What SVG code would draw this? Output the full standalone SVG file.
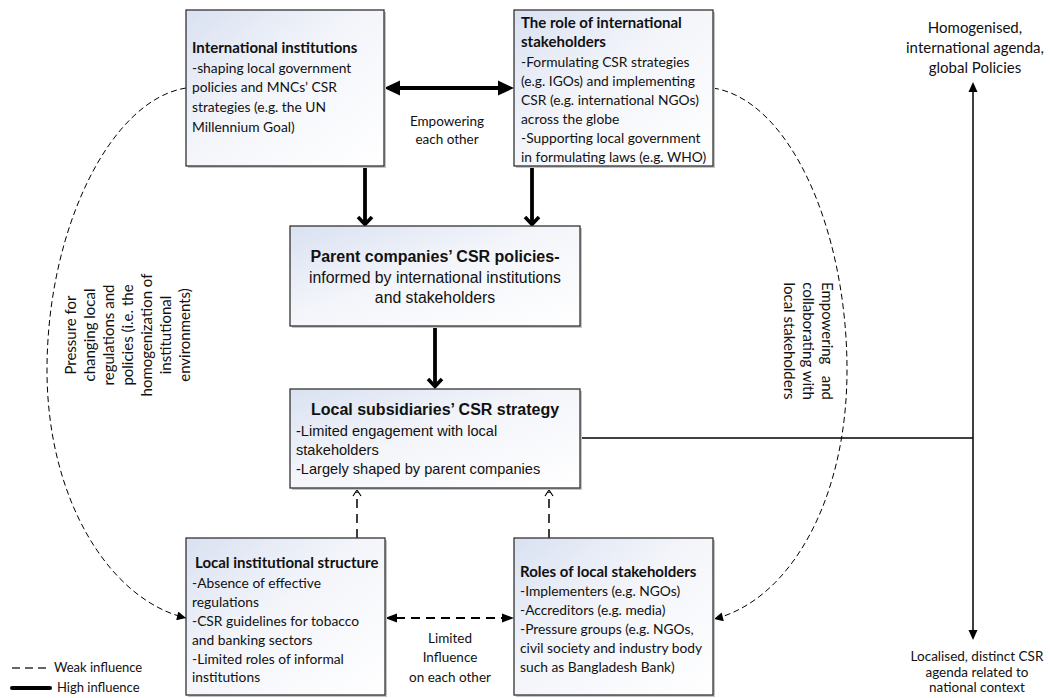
<svg xmlns="http://www.w3.org/2000/svg" width="1050" height="698" viewBox="0 0 1050 698">
<defs>
<linearGradient id="bg" x1="0" y1="0" x2="1" y2="1">
<stop offset="0" stop-color="#d9e1f1"/>
<stop offset="0.45" stop-color="#f3f5fa"/>
<stop offset="1" stop-color="#ffffff"/>
</linearGradient>
<marker id="tri" viewBox="0 0 10 10" refX="10" refY="5" markerWidth="11" markerHeight="9" markerUnits="userSpaceOnUse" orient="auto">
<path d="M0,0 L10,5 L0,10 z" fill="#000"/>
</marker>
<style>
.box{fill:url(#bg);stroke:#333;stroke-width:1.3}
.shadow{fill:#c4c4c4}
.cal{font-family:Lato,"Noto Sans",sans-serif;font-size:13.8px;fill:#111}
.calb{font-family:Lato,"Noto Sans",sans-serif;font-size:15px;font-weight:bold;fill:#111}
.ari{font-family:"Liberation Sans",Arial,sans-serif;font-size:14.6px;fill:#111}
.arib{font-family:"Liberation Sans",Arial,sans-serif;font-size:16px;font-weight:bold;fill:#111}
.lab{font-family:Lato,"Noto Sans",sans-serif;font-size:13.5px;fill:#111}
.lab15{font-family:Lato,"Noto Sans",sans-serif;font-size:15px;fill:#111}
.thick{stroke:#000;stroke-width:3.8;fill:none}
.chev{stroke:#000;stroke-width:3.5;fill:none;stroke-linejoin:miter}
.dash{stroke:#000;stroke-width:1.5;fill:none;stroke-dasharray:9 6}
.curve{stroke:#000;stroke-width:1;fill:none;stroke-dasharray:6 3.5}
.thin{stroke:#000;stroke-width:1.5;fill:none}
</style>
</defs>
<rect width="1050" height="698" fill="#fff"/>

<g id="connectors">
<line class="thick" x1="398" y1="88" x2="500" y2="88"/>
<polygon points="384,88 400,80.5 400,95.5" fill="#000"/>
<polygon points="514,88 498,80.5 498,95.5" fill="#000"/>
<line class="thick" x1="365" y1="166" x2="365" y2="224"/>
<polyline class="chev" points="358,217 365,224.5 372,217"/>
<line class="thick" x1="532" y1="166" x2="532" y2="224"/>
<polyline class="chev" points="525,217 532,224.5 539,217"/>
<line class="thick" x1="435" y1="326" x2="435" y2="387"/>
<polyline class="chev" points="428,379 435,386.5 442,379"/>
<line class="dash" x1="357" y1="538" x2="357" y2="492"/>
<polyline points="353,496 357,490 361,496" stroke="#000" stroke-width="1.2" fill="none"/>
<line class="dash" x1="549" y1="538" x2="549" y2="492"/>
<polyline points="545,496 549,490 553,496" stroke="#000" stroke-width="1.2" fill="none"/>
<line x1="396" y1="618" x2="503" y2="618" stroke="#000" stroke-width="1.8" stroke-dasharray="9 6"/>
<polygon points="385,618 397,613.5 397,622.5" fill="#000"/>
<polygon points="514,618 502,613.5 502,622.5" fill="#000"/>
<path class="curve" d="M186,88 C110,100 47,230 47,370 C47,500 110,600 186,618" marker-end="url(#tri)"/>
<path class="curve" d="M713,88 C790,100 847,230 847,370 C847,500 790,600 714,619" marker-end="url(#tri)"/>
<line class="thin" x1="580" y1="438" x2="973" y2="438"/>
<line class="thin" x1="973" y1="90" x2="973" y2="632"/>
<polygon points="973,82 968.5,92 977.5,92" fill="#000"/>
<polygon points="973,640 968.5,630 977.5,630" fill="#000"/>
</g>

<g id="node-international-institutions">
<rect class="shadow" x="188" y="12" width="198" height="156"/>
<rect class="box" x="186" y="10" width="198" height="156"/>
<text class="calb" x="192" y="53">International institutions</text>
<text class="cal" x="192" y="73">-shaping local government</text>
<text class="cal" x="192" y="92">policies and MNCs’ CSR</text>
<text class="cal" x="192" y="112">strategies (e.g. the UN</text>
<text class="cal" x="192" y="132">Millennium Goal)</text>
</g>

<g id="node-international-stakeholders">
<rect class="shadow" x="516" y="12" width="199" height="156"/>
<rect class="box" x="514" y="10" width="199" height="156"/>
<text class="calb" x="521" y="28">The role of international</text>
<text class="calb" x="521" y="47">stakeholders</text>
<text class="cal" x="521" y="67">-Formulating CSR strategies</text>
<text class="cal" x="521" y="86">(e.g. IGOs) and implementing</text>
<text class="cal" x="521" y="105">CSR (e.g. international NGOs)</text>
<text class="cal" x="521" y="124">across the globe</text>
<text class="cal" x="521" y="143">-Supporting local government</text>
<text class="cal" x="521" y="162">in formulating laws (e.g. WHO)</text>
</g>

<g id="node-parent-companies">
<rect class="shadow" x="292" y="228" width="290" height="100"/>
<rect class="box" x="290" y="226" width="290" height="100"/>
<text class="arib" x="435" y="262" text-anchor="middle">Parent companies’ CSR policies-</text>
<text class="ari" x="435" y="283" text-anchor="middle" style="font-size:15.8px">informed by international institutions</text>
<text class="ari" x="435" y="303" text-anchor="middle" style="font-size:15.8px">and stakeholders</text>
</g>

<g id="node-local-subsidiaries">
<rect class="shadow" x="292" y="391" width="290" height="99"/>
<rect class="box" x="290" y="389" width="290" height="99"/>
<text class="arib" x="435" y="415" text-anchor="middle">Local subsidiaries’ CSR strategy</text>
<text class="ari" x="296" y="436">-Limited engagement with local</text>
<text class="ari" x="296" y="455">stakeholders</text>
<text class="ari" x="296" y="474">-Largely shaped by parent companies</text>
</g>

<g id="node-local-institutional-structure">
<rect class="shadow" x="188" y="540" width="199" height="157"/>
<rect class="box" x="186" y="538" width="199" height="157"/>
<text class="calb" x="195" y="568">Local institutional structure</text>
<text class="cal" x="192" y="588">-Absence of effective</text>
<text class="cal" x="192" y="607">regulations</text>
<text class="cal" x="192" y="626">-CSR guidelines for tobacco</text>
<text class="cal" x="192" y="645">and banking sectors</text>
<text class="cal" x="192" y="664">-Limited roles of informal</text>
<text class="cal" x="192" y="682">institutions</text>
</g>

<g id="node-local-stakeholders">
<rect class="shadow" x="516" y="540" width="199" height="157"/>
<rect class="box" x="514" y="538" width="199" height="157"/>
<text class="calb" x="520" y="577">Roles of local stakeholders</text>
<text class="cal" x="520" y="596">-Implementers (e.g. NGOs)</text>
<text class="cal" x="520" y="615">-Accreditors (e.g. media)</text>
<text class="cal" x="520" y="634">-Pressure groups (e.g. NGOs,</text>
<text class="cal" x="520" y="653">civil society and industry body</text>
<text class="cal" x="520" y="672">such as Bangladesh Bank)</text>
</g>

<g id="labels">
<text class="lab" x="447" y="126" text-anchor="middle">Empowering</text>
<text class="lab" x="447" y="144" text-anchor="middle">each other</text>
<text class="lab" x="450" y="643" text-anchor="middle">Limited</text>
<text class="lab" x="450" y="662" text-anchor="middle">Influence</text>
<text class="lab" x="450" y="682" text-anchor="middle">on each other</text>
<text class="lab15" x="975" y="33" text-anchor="middle">Homogenised,</text>
<text class="lab15" x="975" y="53" text-anchor="middle">international agenda,</text>
<text class="lab15" x="975" y="73" text-anchor="middle">global Policies</text>
<text class="lab" x="977" y="661" text-anchor="middle">Localised, distinct CSR</text>
<text class="lab" x="977" y="677" text-anchor="middle">agenda related to</text>
<text class="lab" x="977" y="692" text-anchor="middle">national context</text>
<g transform="translate(76,335) rotate(-90)">
<text class="lab15" x="0" y="0" text-anchor="middle">Pressure for</text>
<text class="lab15" x="0" y="19" text-anchor="middle">changing local</text>
<text class="lab15" x="0" y="38" text-anchor="middle">regulations and</text>
<text class="lab15" x="0" y="57" text-anchor="middle">policies (i.e. the</text>
<text class="lab15" x="0" y="76" text-anchor="middle">homogenization of</text>
<text class="lab15" x="0" y="95" text-anchor="middle">institutional</text>
<text class="lab15" x="0" y="114" text-anchor="middle">environments)</text>
</g>
<g transform="translate(822,341) rotate(90)">
<text class="lab15" x="-59" y="0">Empowering</text>
<text class="lab15" x="59" y="0" text-anchor="end">and</text>
<text class="lab15" x="0" y="19" text-anchor="middle">collaborating with</text>
<text class="lab15" x="0" y="38" text-anchor="middle">local stakeholders</text>
</g>
</g>

<g id="legend">
<line x1="12" y1="668" x2="50" y2="668" stroke="#333" stroke-width="1.5" stroke-dasharray="8 5"/>
<text class="lab" x="54" y="672" style="font-size:13px">Weak influence</text>
<line x1="12" y1="688" x2="50" y2="688" stroke="#000" stroke-width="4" stroke-linecap="round"/>
<text class="lab" x="57" y="692" style="font-size:13px">High influence</text>
</g>
</svg>
